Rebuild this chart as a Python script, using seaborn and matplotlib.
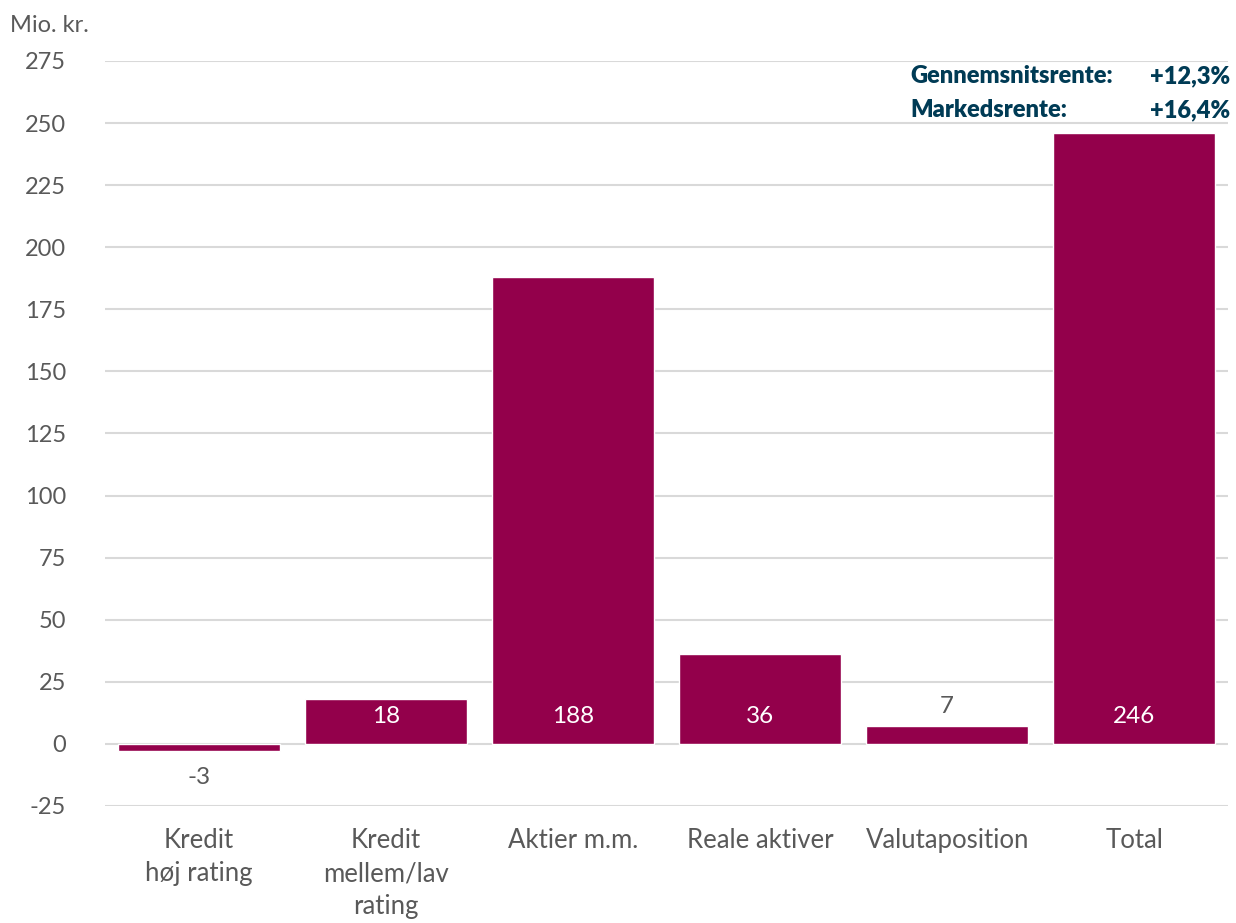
import pandas as pd
import seaborn as sns
import matplotlib.pyplot as plt

# data
categories = ['Kredit\nhøj rating', 'Kredit\nmellem/lav\nrating', 'Aktier m.m.',
              'Reale aktiver', 'Valutaposition', 'Total']
values = [-3, 18, 188, 36, 7, 246]
yticks = list(range(-25, 276, 25))
note_labels = ['Gennemsnitsrente:', 'Markedsrente:']
note_values = ['+12,3%', '+16,4%']

bar_color = '#93004b'
text_gray = '#595959'
note_color = '#003b55'

sns.set_theme(style='white')
plt.rcParams['font.family'] = ['Lato', 'DejaVu Sans']

df = pd.DataFrame({'kategori': categories, 'vaerdi': values})

fig = plt.figure(figsize=(12.36, 9.23), dpi=100)
ax = fig.add_axes([0.085, 0.1268, 0.9085, 0.8072])

sns.barplot(data=df, x='kategori', y='vaerdi', color=bar_color, saturation=1,
            width=0.866, ax=ax, zorder=3)

ax.set_xlim(-0.5, 5.5)
ax.set_ylim(-25, 275)
ax.set_yticks(yticks)
ax.set_yticklabels([str(t) for t in yticks])
ax.yaxis.grid(True, color='#d9d9d9', linewidth=1.5, zorder=0)
ax.set_axisbelow(True)
for s in ax.spines.values():
    s.set_visible(False)
ax.tick_params(axis='y', length=0, labelsize=17, colors=text_gray, pad=28)
ax.tick_params(axis='x', length=0, labelsize=18.5, colors=text_gray, pad=16)
ax.set_xlabel('')
ax.set_ylabel('')
for lbl in ax.get_xticklabels():
    lbl.set_linespacing(1.4)
    lbl.set_verticalalignment('top')

# value labels
for i, v in enumerate(values):
    if v >= 15:
        ax.text(i, 11, str(v), ha='center', va='center', color='white', fontsize=17.5, zorder=4)
    elif v >= 0:
        ax.text(i, v + 8, str(v), ha='center', va='center', color=text_gray, fontsize=17.5, zorder=4)
    else:
        ax.text(i, v - 10.5, str(v), ha='center', va='center', color=text_gray, fontsize=17.5, zorder=4)

# note in upper right
fig.text(10 / 1236, 1 - 25 / 923, 'Mio. kr.', ha='left', va='center', color=text_gray, fontsize=17)
for k, (lab, val) in enumerate(zip(note_labels, note_values)):
    y = 1 - (76 + k * 34) / 923
    fig.text(910 / 1236, y, lab, ha='left', va='center', color=note_color,
             fontsize=17, fontweight='heavy')
    fig.text(1230 / 1236, y, val, ha='right', va='center', color=note_color,
             fontsize=17, fontweight='heavy')

fig.savefig('out.png', dpi=100)
